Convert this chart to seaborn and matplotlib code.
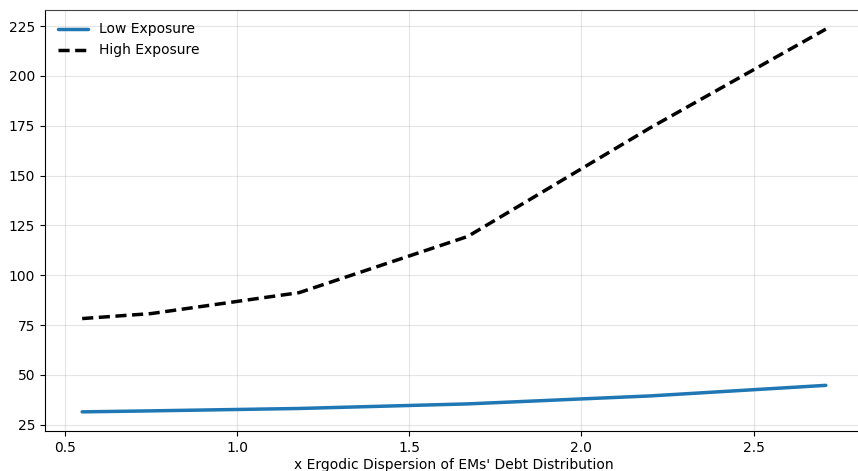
import pandas as pd
import seaborn as sns
import matplotlib
matplotlib.use('Agg')
import matplotlib.pyplot as plt

# values
dispersion = [0.55, 0.75, 1.18, 1.67, 2.20, 2.71]
low_exposure = [31.5, 32.0, 33.2, 35.5, 39.5, 44.8]
high_exposure = [78.3, 80.8, 91.3, 119.5, 174.0, 223.5]
series_names = ['Low Exposure', 'High Exposure']

df = pd.DataFrame({
    'x': dispersion * 2,
    'y': low_exposure + high_exposure,
    'group': [series_names[0]] * len(dispersion) + [series_names[1]] * len(dispersion),
})

sns.set_style("ticks")
plt.rcParams['font.family'] = ['DejaVu Sans']
plt.rcParams['text.color'] = 'black'
plt.rcParams['xtick.color'] = 'black'
plt.rcParams['ytick.color'] = 'black'
plt.rcParams['axes.labelcolor'] = 'black'

fig = plt.figure(figsize=(8.58, 4.71), dpi=100)
ax = fig.add_axes([45 / 858, 40 / 471, 818 / 858, 421 / 471])

sns.lineplot(data=df, x='x', y='y', hue='group', style='group',
             palette={'Low Exposure': '#1f77b4', 'High Exposure': 'black'},
             dashes={'Low Exposure': '', 'High Exposure': (3.2, 1.6)},
             linewidth=2.5, ax=ax)

ax.grid(True, color='gray', alpha=0.2, linewidth=0.8)
ax.set_yticks([25, 50, 75, 100, 125, 150, 175, 200, 225])
ax.set_xticks([0.5, 1.0, 1.5, 2.0, 2.5])
ax.tick_params(labelsize=10, direction='out', length=3.5, width=0.8)
for s in ax.spines.values():
    s.set_color('black')
    s.set_linewidth(0.8)
ax.spines['top'].set_color('#444444')

ax.set_xlabel("x Ergodic Dispersion of EMs' Debt Distribution", fontsize=10, labelpad=2)
ax.set_ylabel('')
ax.legend(loc='upper left', frameon=False, fontsize=10, handlelength=2.2)

fig.savefig('out.png', dpi=100)
